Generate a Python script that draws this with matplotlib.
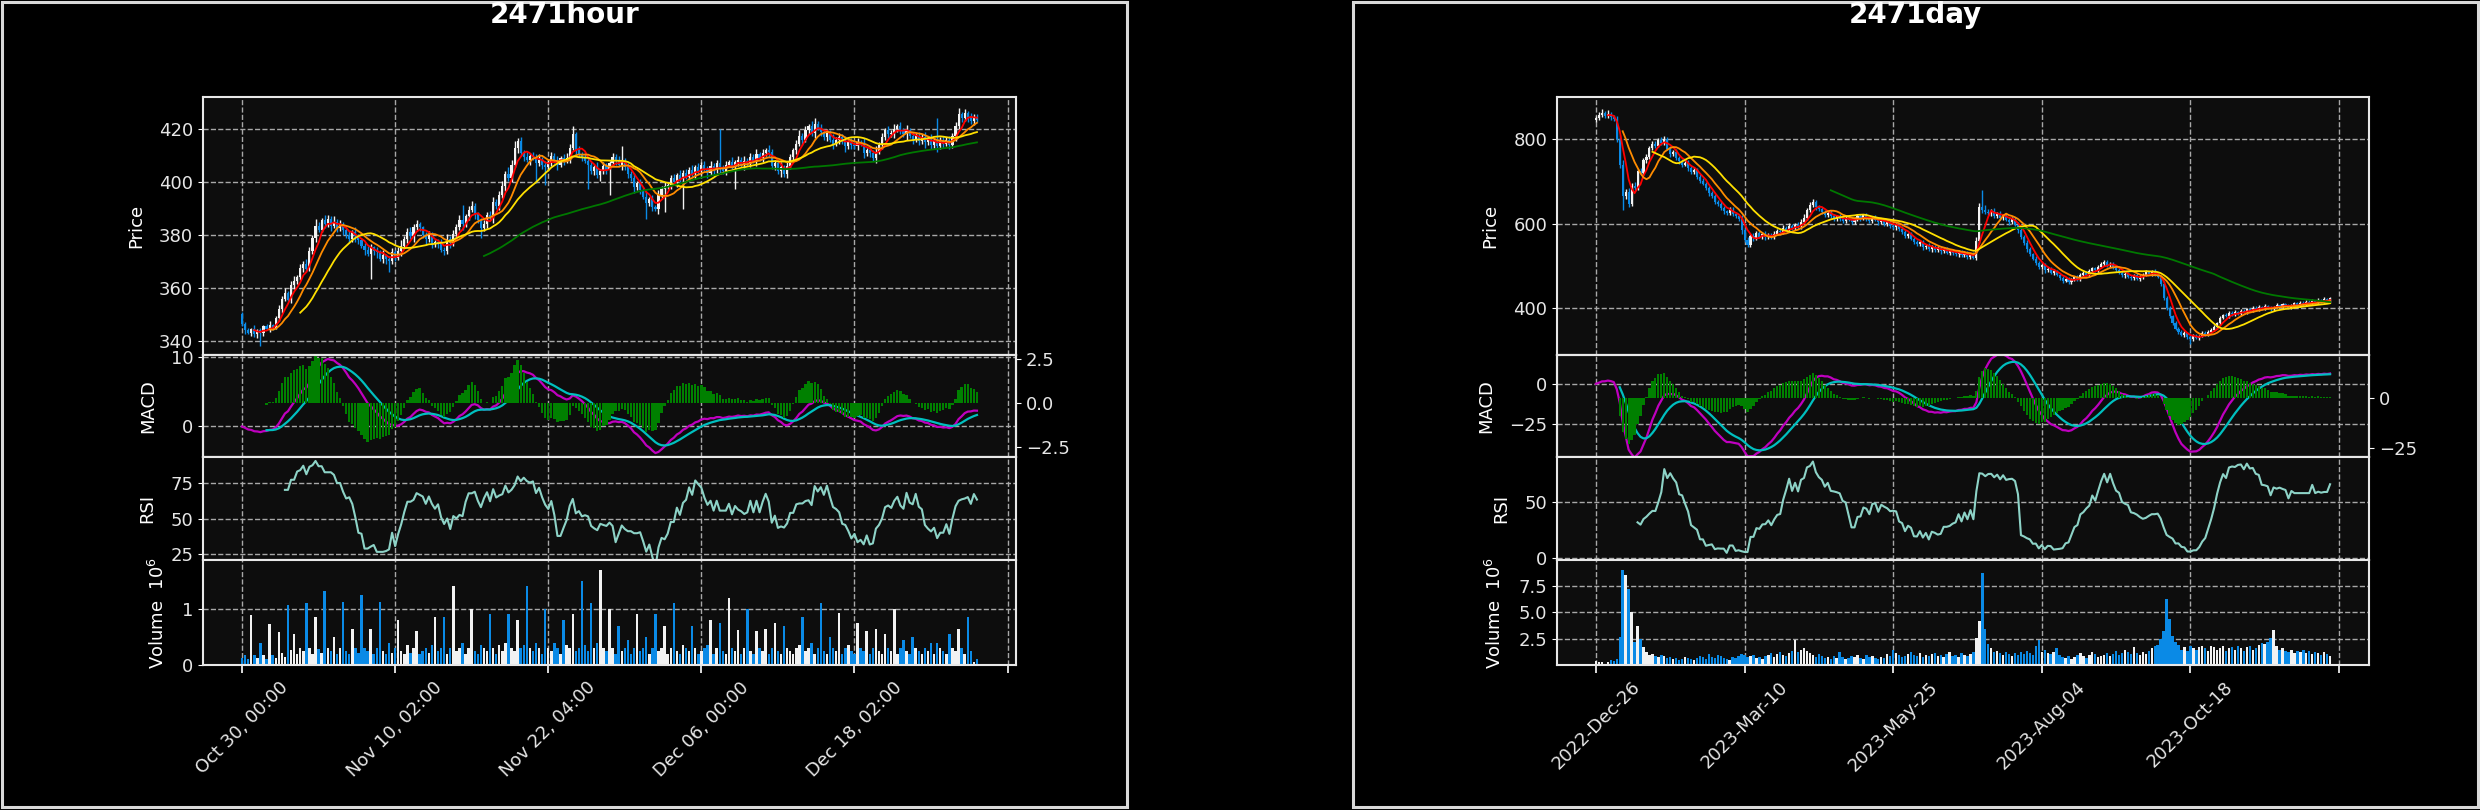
import numpy as np
import pandas as pd
import matplotlib
matplotlib.use("Agg")
import matplotlib.pyplot as plt
from matplotlib.patches import Rectangle

# ---- hourly (2471hour) ----
h_open0 = 350.0
h_close = [
    346.5, 344, 343, 344.5, 342.5, 344, 343, 345.5, 344.5, 346,
    345, 348.5, 352, 356, 358, 355.5, 361, 362.5, 364, 367.5,
    369, 367, 374, 379, 383.5, 382, 385.5, 384, 386, 383.5,
    385, 382.5, 384, 382, 380, 378.5, 381, 379.5, 378, 376,
    374.5, 373, 375.5, 374, 373.5, 371, 372.5, 371, 370, 373.5,
    371.5, 374, 376, 378.5, 381, 379.5, 383, 384, 383, 380,
    378.5, 380, 376.5, 377.5, 377, 374.5, 374, 378.5, 377, 380.5,
    383, 385.5, 384, 387, 389.5, 391, 388, 385.5, 382.5, 384,
    387.5, 386.5, 392.5, 391, 395, 398.5, 403, 401.5, 406.5, 413,
    415.5, 411, 409.5, 408.5, 410, 409.5, 407, 408.5, 406.5, 405.5,
    407.5, 410, 408, 406.5, 409, 408, 409, 413, 418, 412,
    410.5, 409.5, 408, 406.5, 404, 405.5, 402.5, 404, 406, 404.5,
    407, 409.5, 408, 406.5, 408, 405.5, 403, 401.5, 398, 399.5,
    397, 394.5, 392, 393.5, 390.5, 390, 395, 397.5, 398.5, 399,
    401.5, 400, 402.5, 401, 403.5, 402, 404.5, 403, 405.5, 404,
    406.5, 405, 403.5, 406, 404.5, 407, 405.5, 404, 406.5, 407.5,
    406, 407.5, 408.5, 406.5, 408, 407, 409.5, 408, 410.5, 409,
    411, 412, 411.5, 406, 407, 404, 405.5, 403, 406, 409.5,
    412, 414.5, 417.5, 416, 419.5, 421, 418.5, 422, 420.5, 419,
    417, 418.5, 416, 414.5, 416, 417, 415.5, 413.5, 415, 414,
    413.5, 415, 414.5, 411, 412, 411, 409, 411.5, 414, 417,
    419.5, 418, 418.5, 420, 421, 419.5, 418, 419.5, 417.5, 416,
    417.5, 415.5, 417, 415, 416.5, 414, 415.5, 413.5, 416, 414.5,
    416, 414, 417.5, 421, 425.5, 424, 426, 424.5, 423, 424.5,
    423.5]
h_wick_up = [
    1, 0.5, 1, 0.5, 1.5, 0.5, 1, 0.5, 1, 1.5,
    0.5, 1, 1.5, 1, 2, 1, 1.5, 2, 1, 1.5,
    1, 2, 1.5, 1, 2.5, 1.5, 1, 2, 1.5, 1,
    2, 1, 1.5, 1, 0.5, 1.5, 1, 2, 1, 0.5,
    1, 1.5, 1, 0.5, 1.5, 1, 2, 0.5, 1, 1.5,
    1, 1.5, 2, 1, 1.5, 2, 1, 1.5, 1, 0.5,
    1, 1.5, 1, 0.5, 1, 1.5, 1, 2, 1, 1.5,
    1, 2, 6, 1, 1.5, 2, 1, 0.5, 1, 1.5,
    1, 1.5, 2, 1, 1.5, 2, 1, 2.5, 2, 2.5,
    1, 1.5, 1, 2, 1, 1.5, 1, 2, 1, 1.5,
    1, 1.5, 1, 2, 1, 1.5, 2, 1.5, 3, 1,
    1.5, 1, 2, 1, 1.5, 1, 2, 1, 1.5, 1,
    1, 1.5, 1, 2, 5.5, 1, 1.5, 1, 2, 1,
    1.5, 1, 2, 1, 1.5, 1, 2, 1, 1.5, 1,
    1, 1.5, 1, 2, 1, 1.5, 1, 2, 1, 1.5,
    1, 1.5, 1, 2, 1, 1.5, 13, 1, 1.5, 1,
    2, 1, 1.5, 1, 2, 1, 1.5, 1, 2, 1,
    1.5, 1, 2, 1, 1.5, 1, 2, 1, 1.5, 1,
    1, 1.5, 2, 1, 1.5, 1, 2, 2, 1, 1.5,
    1, 1.5, 1, 2, 1, 1.5, 1, 2, 1, 1.5,
    1, 1.5, 1, 2, 1, 1.5, 1, 2, 1, 1.5,
    1, 1.5, 1, 2, 1, 1.5, 1, 2, 1, 1.5,
    1, 1.5, 1, 2, 1, 1.5, 1, 8.5, 1, 1.5,
    1, 1.5, 1, 1.5, 2.5, 1, 1.5, 1, 1.5, 1,
    1]
h_wick_dn = [
    1, 1.5, 0.5, 1, 1, 1.5, 5, 1, 0.5, 1,
    1, 0.5, 1, 1.5, 1, 0.5, 1, 1.5, 1, 1,
    1.5, 1, 0.5, 1, 1.5, 1, 1, 1.5, 1, 2,
    1, 1.5, 1, 2, 1, 1.5, 1, 2, 1.5, 1,
    2, 1, 9.5, 1.5, 2, 1, 1.5, 2, 4, 1,
    1.5, 1, 2, 1, 1.5, 1, 2, 1, 1.5, 1,
    2, 1, 1.5, 1, 2, 1, 1.5, 1, 2, 1,
    1.5, 1, 2, 1, 1.5, 1, 2, 1, 3.5, 1,
    1.5, 1, 2, 1, 1.5, 1, 2, 1, 1.5, 1,
    2, 1, 1.5, 1, 2, 1, 7.5, 1, 1.5, 6.5,
    1, 1.5, 1, 2, 1, 1.5, 1, 2, 1, 1.5,
    1, 1.5, 1, 9, 1, 1.5, 1, 2, 1, 1.5,
    9.5, 1, 1.5, 1, 2, 1, 1.5, 1, 2, 1,
    1.5, 1, 6, 1, 1.5, 1, 2, 1, 9, 1,
    1.5, 1, 2, 1, 11, 1, 1.5, 1, 2, 1,
    1.5, 1, 2, 1, 1.5, 1, 2, 1, 1.5, 1,
    1, 8.5, 1.5, 1, 2, 1, 1.5, 1, 2, 1,
    1.5, 1, 2, 1, 1.5, 1, 2, 1, 1.5, 1,
    1, 1.5, 1, 2, 1, 1.5, 1, 2, 1, 1.5,
    1, 1.5, 1, 2, 1, 1.5, 1, 2, 1, 1.5,
    1, 1.5, 1, 2, 1, 1.5, 1, 2, 1, 1.5,
    1, 1.5, 1, 2, 1, 1.5, 1, 2, 1, 1.5,
    1, 1.5, 1, 2, 1, 1.5, 1, 2, 1, 1.5,
    1, 1.5, 1, 2, 1, 1.5, 1, 2, 1, 1.5,
    1]
h_vol_m = [
    0.12, 0.17, 0.1, 0.89, 0.17, 0.12, 0.4, 0.17, 0.1, 0.73,
    0.17, 0.12, 0.58, 0.21, 0.15, 1.06, 0.27, 0.55, 0.2, 0.3,
    0.25, 1.1, 0.3, 0.2, 0.85, 0.28, 0.22, 1.32, 0.3, 0.25,
    0.5, 0.2, 0.3, 1.12, 0.25, 0.2, 0.65, 0.3, 0.22, 1.25,
    0.3, 0.25, 0.65, 0.2, 0.3, 1.12, 0.25, 0.2, 0.4, 0.22,
    0.3, 0.8, 0.25, 0.2, 0.35, 0.22, 0.3, 0.6, 0.2, 0.25,
    0.3, 0.22, 0.35, 0.85, 0.25, 0.3, 0.85, 0.2, 0.3, 1.4,
    0.25, 0.3, 0.4, 0.2, 0.3, 1.0, 0.25, 0.2, 0.35, 0.3,
    0.25, 0.9, 0.3, 0.2, 0.35, 0.25, 0.4, 0.9, 0.3, 0.25,
    0.8, 0.3, 0.35, 1.4, 0.3, 0.25, 0.4, 0.3, 0.2, 1.0,
    0.3, 0.25, 0.4, 0.3, 0.2, 0.8, 0.35, 0.3, 0.9, 0.25,
    0.3, 1.5, 0.35, 0.25, 1.1, 0.3, 0.4, 1.7, 0.3, 0.25,
    1.0, 0.3, 0.2, 0.7, 0.25, 0.3, 0.45, 0.2, 0.3, 0.9,
    0.25, 0.3, 0.5, 0.2, 0.3, 0.9, 0.25, 0.3, 0.7, 0.2,
    0.3, 1.1, 0.25, 0.2, 0.35, 0.3, 0.25, 0.7, 0.3, 0.2,
    0.25, 0.3, 0.35, 0.8, 0.2, 0.3, 0.75, 0.25, 0.2, 1.2,
    0.3, 0.25, 0.62, 0.2, 0.3, 1.0, 0.25, 0.2, 0.6, 0.3,
    0.25, 0.65, 0.2, 0.3, 0.75, 0.25, 0.2, 0.7, 0.3, 0.25,
    0.2, 0.3, 0.35, 0.85, 0.25, 0.3, 0.4, 0.2, 0.3, 1.1,
    0.25, 0.2, 0.5, 0.3, 0.25, 0.93, 0.2, 0.3, 0.35, 0.25,
    0.2, 0.75, 0.3, 0.25, 0.6, 0.2, 0.3, 0.65, 0.25, 0.2,
    0.55, 0.3, 0.25, 1.0, 0.2, 0.3, 0.45, 0.25, 0.2, 0.5,
    0.3, 0.25, 0.2, 0.3, 0.25, 0.4, 0.2, 0.4, 0.3, 0.25,
    0.2, 0.55, 0.3, 0.25, 0.65, 0.3, 0.2, 0.85, 0.25, 0.05,
    0.1]
h_labels = ["Oct 30, 00:00", "Nov 10, 02:00", "Nov 22, 04:00",
            "Dec 06, 00:00", "Dec 18, 02:00", ""]

# ---- daily (2471day) ----
d_open0 = 845.0
d_close = [
    850, 858, 862, 855, 860, 852, 848, 800, 740, 665,
    675, 648, 690, 685, 725, 720, 750, 758, 780, 790,
    785, 798, 792, 800, 778, 765, 770, 755, 748, 740,
    745, 732, 722, 728, 712, 702, 695, 685, 672, 665,
    652, 648, 638, 630, 626, 634, 624, 618, 612, 585,
    562, 550, 572, 566, 578, 570, 575, 568, 574, 570,
    577, 583, 580, 590, 586, 595, 590, 598, 594, 605,
    615, 632, 645, 652, 640, 635, 628, 622, 626, 618,
    612, 618, 612, 607, 614, 610, 605, 612, 618, 614,
    620, 612, 608, 615, 610, 604, 608, 600, 605, 596,
    592, 598, 588, 580, 572, 575, 565, 558, 552, 556,
    545, 548, 540, 546, 538, 542, 535, 540, 532, 536,
    532, 528, 534, 526, 530, 522, 528, 520, 560, 640,
    632, 628, 625, 630, 618, 624, 615, 620, 610, 604,
    612, 598, 585, 570, 555, 540, 528, 518, 508, 498,
    502, 490, 494, 485, 488, 480, 472, 466, 470, 462,
    468, 474, 470, 478, 485, 480, 488, 495, 490, 498,
    505, 510, 502, 506, 498, 492, 485, 478, 482, 475,
    472, 478, 470, 475, 480, 486, 482, 488, 480, 475,
    458, 425, 402, 382, 366, 352, 345, 338, 342, 333,
    328, 336, 330, 335, 342, 338, 345, 350, 356, 365,
    378, 385, 382, 390, 386, 392, 388, 395, 392, 398,
    395, 402, 398, 404, 400, 406, 402, 398, 404, 408,
    405, 410, 406, 402, 408, 412, 408, 414, 410, 416,
    412, 418, 414, 420, 416, 422, 418, 424]
d_wick_up = [
    5, 6, 10, 4, 10, 5, 6, 8, 10, 12,
    8, 10, 6, 8, 5, 7, 6, 8, 5, 7,
    6, 5, 8, 8, 5, 6, 4, 7, 5, 6,
    4, 6, 5, 7, 4, 5, 6, 4, 5, 6,
    5, 4, 6, 5, 4, 6, 5, 4, 6, 8,
    6, 8, 5, 7, 4, 6, 5, 7, 4, 5,
    6, 4, 5, 7, 4, 6, 5, 4, 6, 7,
    8, 6, 7, 6, 5, 4, 6, 5, 4, 6,
    5, 4, 6, 5, 4, 6, 5, 4, 6, 5,
    4, 6, 5, 4, 6, 5, 4, 6, 5, 4,
    6, 5, 4, 6, 5, 4, 6, 5, 4, 6,
    5, 4, 6, 5, 4, 6, 5, 4, 6, 5,
    4, 6, 5, 4, 6, 5, 4, 6, 8, 10,
    39, 12, 8, 6, 7, 5, 6, 4, 5, 6,
    5, 4, 6, 5, 4, 6, 5, 4, 6, 5,
    4, 5, 3, 4, 5, 3, 4, 5, 3, 4,
    5, 3, 4, 5, 3, 4, 5, 3, 4, 5,
    6, 5, 4, 5, 3, 4, 5, 3, 4, 5,
    3, 4, 5, 3, 4, 5, 3, 4, 5, 3,
    5, 6, 4, 5, 3, 4, 5, 3, 4, 3,
    4, 3, 4, 3, 4, 5, 3, 4, 5, 4,
    4, 3, 4, 5, 3, 4, 3, 4, 3, 4,
    3, 4, 3, 4, 3, 4, 3, 4, 3, 4,
    3, 4, 3, 4, 3, 4, 3, 4, 3, 4,
    3, 4, 3, 4, 3, 4, 3, 4]
d_wick_dn = [
    4, 5, 6, 4, 5, 6, 5, 6, 8, 33,
    5, 8, 6, 5, 6, 4, 5, 6, 4, 5,
    5, 4, 6, 5, 4, 6, 5, 4, 6, 5,
    4, 6, 5, 4, 6, 5, 4, 6, 5, 4,
    6, 5, 4, 6, 5, 4, 6, 5, 4, 8,
    6, 5, 4, 6, 5, 4, 6, 5, 4, 6,
    5, 4, 6, 5, 4, 6, 5, 4, 6, 5,
    4, 6, 5, 4, 6, 5, 4, 6, 5, 4,
    6, 5, 4, 6, 5, 4, 6, 5, 4, 6,
    5, 4, 6, 5, 4, 6, 5, 4, 6, 5,
    4, 6, 5, 4, 6, 5, 4, 6, 5, 4,
    6, 5, 4, 6, 5, 4, 6, 5, 4, 6,
    5, 4, 6, 5, 4, 6, 5, 4, 6, 5,
    6, 5, 4, 6, 5, 4, 6, 5, 4, 6,
    5, 4, 6, 5, 4, 6, 5, 4, 6, 5,
    4, 5, 3, 4, 5, 3, 4, 5, 3, 4,
    5, 3, 4, 5, 3, 4, 5, 3, 4, 5,
    3, 4, 5, 3, 4, 5, 3, 4, 5, 3,
    4, 5, 3, 4, 5, 3, 4, 5, 3, 4,
    5, 6, 5, 4, 5, 4, 6, 4, 5, 4,
    12, 4, 3, 4, 3, 4, 3, 4, 3, 4,
    3, 4, 3, 4, 3, 4, 3, 4, 3, 4,
    3, 4, 3, 4, 3, 4, 3, 4, 3, 4,
    3, 4, 3, 4, 3, 4, 3, 4, 3, 4,
    3, 4, 3, 4, 3, 4, 3, 4]
d_vol_m = [
    0.45, 0.3, 0.35, 0.17, 0.3, 0.5, 0.4, 0.6, 2.7, 9.0,
    8.5, 7.2, 5.0, 2.2, 3.7, 2.5, 1.7, 1.3, 1.0, 1.1,
    0.9, 0.8, 1.0, 0.9, 0.7, 0.8, 0.6, 0.7, 0.5, 0.6,
    0.8, 0.7, 0.6, 0.5, 0.7, 0.9, 0.8, 0.6, 1.1, 0.8,
    0.7, 1.0, 0.9, 0.7, 0.6, 0.5, 0.8, 0.7, 0.9, 1.1,
    1.0, 0.8, 0.9, 1.0, 0.7, 0.8, 0.6, 0.9, 1.0, 1.2,
    0.8, 1.1, 1.3, 1.0, 0.9, 1.2, 1.4, 2.4, 1.3, 1.5,
    1.6, 1.4, 1.2, 1.0, 0.8, 1.1, 0.9, 0.7, 0.8, 0.6,
    0.9, 0.7, 1.3, 0.8, 0.6, 0.7, 0.9, 0.8, 1.0, 0.7,
    0.6, 1.0, 0.8, 0.9, 0.7, 0.6, 0.8, 0.7, 1.1, 0.9,
    1.5, 1.2, 1.0, 0.8, 0.9, 1.1, 1.3, 1.0, 0.9, 1.2,
    0.8, 1.0, 0.9, 1.1, 1.2, 0.9, 1.0, 0.8, 1.1, 1.3,
    0.9, 1.0, 0.8, 1.2, 1.0, 0.9, 1.1, 1.3, 2.6, 4.2,
    8.7, 3.4, 2.0, 1.6, 1.3, 1.4, 1.2, 1.0, 1.3, 1.1,
    0.9, 1.2, 1.0, 1.3, 1.1, 1.4, 1.2, 1.0, 1.8, 2.4,
    1.3, 1.5, 1.2, 1.1, 1.3, 1.6, 1.0, 0.8, 0.7, 0.9,
    0.6, 0.8, 1.0, 1.2, 0.9, 0.7, 1.0, 1.3, 1.1, 0.8,
    0.9, 1.0, 1.2, 0.9, 1.1, 1.4, 1.0, 1.2, 1.5, 1.3,
    1.1, 1.7, 1.2, 1.0, 1.3, 1.1, 1.4, 1.6, 1.8, 1.9,
    2.5, 3.2, 6.2, 4.4, 2.8, 2.2, 1.9, 1.5, 1.7, 1.4,
    1.8, 1.6, 1.5, 1.7, 1.8, 1.6, 1.4, 1.8, 1.7, 1.5,
    1.6, 1.8, 1.4, 1.6, 1.7, 1.5, 1.8, 1.6, 1.4, 1.7,
    1.8, 1.5, 1.6, 1.9, 2.1, 2.0, 2.2, 2.6, 3.3, 1.8,
    1.5, 1.6, 1.4, 1.3, 1.5, 1.2, 1.4, 1.3, 1.5, 1.2,
    1.4, 1.1, 1.3, 1.2, 1.0, 1.3, 1.1, 0.9]
d_labels = ["2022-Dec-26", "2023-Mar-10", "2023-May-25",
            "2023-Aug-04", "2023-Oct-18", ""]

MA_WINDOWS = [5, 10, 20, 80]
MA_COLORS = ["#ff0000", "#ff8c00", "#ffe000", "#007800"]

W, H = 2480, 810
UP = "#f2f2f2"
DOWN = "#0a8ae6"
AX_BG = "#0d0d0d"
EDGE = "#e8e8e8"
GRID = "#a8a8a8"

plt.rcParams.update({
    "font.family": "DejaVu Sans",
    "font.size": 13,
    "text.color": "white",
    "axes.labelcolor": "white",
    "axes.labelpad": 10,
    "xtick.color": "white",
    "ytick.color": "white",
    "xtick.labelcolor": "#e6e6e6",
    "ytick.labelcolor": "#e6e6e6",
})


def indicators(close):
    s = pd.Series(close)
    mas = [s.rolling(n).mean() for n in MA_WINDOWS]
    macd = s.ewm(span=12, adjust=False).mean() - s.ewm(span=26, adjust=False).mean()
    signal = macd.ewm(span=9, adjust=False, min_periods=9).mean()
    hist = macd - signal
    d = s.diff()
    gain = d.clip(lower=0).rolling(14).mean()
    loss = (-d.clip(upper=0)).rolling(14).mean()
    rsi = 100 - 100 / (1 + gain / loss)
    return mas, macd, signal, hist, rsi


def add_ax(fig, x0, x1, y0, y1):
    ax = fig.add_axes([x0 / W, 1 - y1 / H, (x1 - x0) / W, (y1 - y0) / H])
    ax.set_facecolor(AX_BG)
    for sp in ax.spines.values():
        sp.set_color(EDGE)
        sp.set_linewidth(1.5)
    return ax


def style_x(ax, n, labels, bottom):
    ax.set_xticks(range(0, 251, 50))
    pad = 0.05 * (n - 1) + 0.75
    ax.set_xlim(-pad, n - 1 + pad)
    ax.grid(True, axis="both", ls="--", color=GRID, lw=1.0)
    ax.set_axisbelow(True)
    if bottom:
        ax.set_xticklabels(labels, rotation=45, ha="center")
        ax.tick_params(axis="x", length=6, width=1.2)
    else:
        ax.tick_params(axis="x", length=0, labelbottom=False)


def panel(fig, x0, x1, title, cfg):
    c = np.array(cfg["close"], float)
    n = len(c)
    x = np.arange(n)
    o = np.r_[cfg["open0"], c[:-1]]
    hi = np.maximum(o, c) + np.array(cfg["wu"], float)
    lo = np.minimum(o, c) - np.array(cfg["wd"], float)
    cols = np.where(c >= o, UP, DOWN)
    mas, macd, sig, hist, rsi = indicators(c)

    fig.text((x0 + x1) / 2 / W, 1 - 15 / H, title, ha="center", va="center",
             fontsize=20, fontweight="bold", color="white")

    left, right = cfg["axes_x"]
    axp = add_ax(fig, left, right, 97, 355)
    axp.vlines(x, lo, hi, colors=cols, lw=1.0)
    body = np.maximum(np.abs(c - o), cfg["minbody"])
    axp.bar(x, body, bottom=np.minimum(o, c), width=0.7, color=cols, lw=0)
    for ma, col in zip(mas, MA_COLORS):
        axp.plot(x, ma, color=col, lw=1.3)
    axp.set_ylim(*cfg["plim"])
    axp.set_yticks(cfg["pticks"])
    axp.set_ylabel("Price")
    style_x(axp, n, None, False)

    axm = add_ax(fig, left, right, 355, 457)
    axm.plot(x, macd, color="#bf00bf", lw=1.6)
    axm.plot(x, sig, color="#00bfbf", lw=1.6)
    axm.set_ylim(*cfg["mlim"])
    axm.set_yticks(cfg["mticks"])
    axm.set_ylabel("MACD")
    style_x(axm, n, None, False)
    axh = axm.twinx()
    axh.bar(x, hist, width=0.75, color="#008000", lw=0)
    axh.set_ylim(*cfg["hlim"])
    axh.set_yticks(cfg["hticks"])
    for sp in axh.spines.values():
        sp.set_color(EDGE)
        sp.set_linewidth(1.5)

    axr = add_ax(fig, left, right, 457, 560)
    axr.plot(x, rsi, color="#8dd3c7", lw=1.5)
    axr.set_ylim(*cfg["rlim"])
    axr.set_yticks(cfg["rticks"])
    axr.set_ylabel("RSI")
    style_x(axr, n, None, False)

    axv = add_ax(fig, left, right, 560, 665)
    v = np.array(cfg["vol"], float)
    axv.bar(x, v, width=0.8, color=cols, lw=0)
    axv.set_ylim(0.3 * v.min(), 1.1 * v.max())
    axv.set_yticks(cfg["vticks"])
    axv.set_yticklabels(cfg["vticklabels"])
    axv.set_ylabel("Volume  $10^{6}$")
    style_x(axv, n, cfg["labels"], True)

    fig.patches.append(Rectangle((x0 / W, 1 - 807 / H), (x1 - x0) / W, 805 / H,
                                 transform=fig.transFigure, fill=False,
                                 edgecolor="#d9d9d9", lw=2.2))


fig = plt.figure(figsize=(W / 100, H / 100), dpi=100, facecolor="black")

panel(fig, 2, 1127, "2471hour", dict(
    close=h_close, open0=h_open0, wu=h_wick_up, wd=h_wick_dn, vol=h_vol_m,
    labels=h_labels, axes_x=(203, 1016), minbody=0.2,
    plim=(334.7, 432.1), pticks=[340, 360, 380, 400, 420],
    mlim=(-4.4, 10.3), mticks=[0, 10],
    hlim=(-3.06, 2.72), hticks=[-2.5, 0, 2.5],
    rlim=(20.8, 93.3), rticks=[25, 50, 75],
    vticks=[0, 1], vticklabels=["0", "1"]))

panel(fig, 1353, 2478, "2471day", dict(
    close=d_close, open0=d_open0, wu=d_wick_up, wd=d_wick_dn, vol=d_vol_m,
    labels=d_labels, axes_x=(1557, 2369), minbody=1.0,
    plim=(290, 900), pticks=[400, 600, 800],
    mlim=(-45.1, 17.7), mticks=[-25, 0],
    hlim=(-29.4, 21.0), hticks=[-25, 0],
    rlim=(-1.8, 90), rticks=[0, 50],
    vticks=[2.5, 5.0, 7.5], vticklabels=["2.5", "5.0", "7.5"]))

fig.savefig("out.png", dpi=100, facecolor="black")
